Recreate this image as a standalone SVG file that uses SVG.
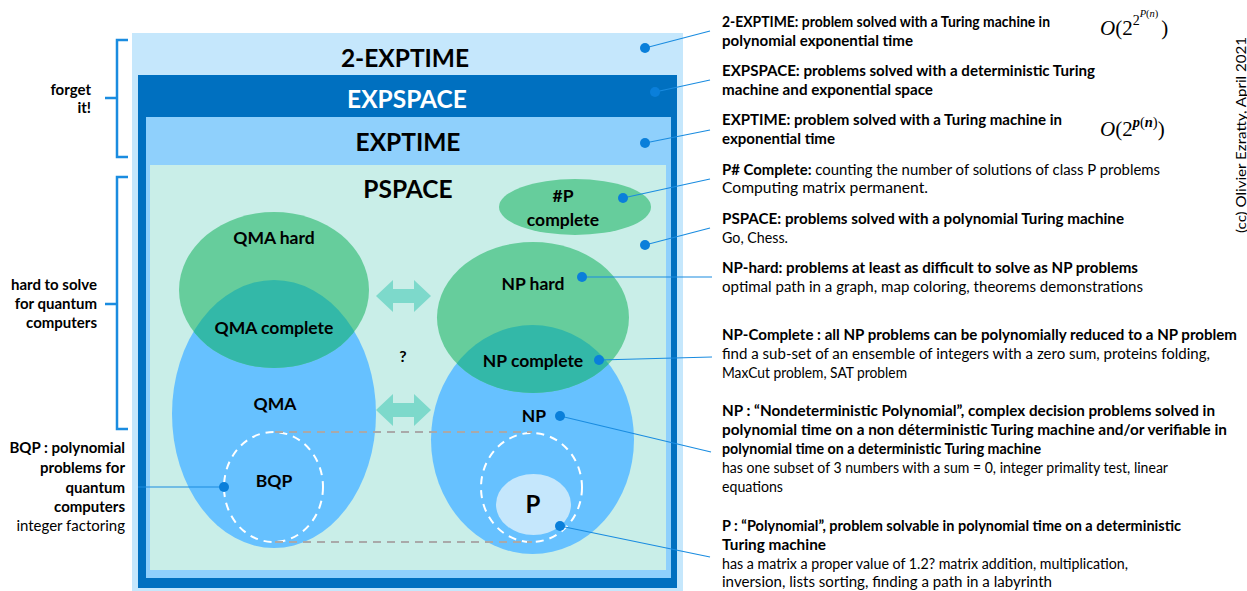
<svg xmlns="http://www.w3.org/2000/svg" width="1247" height="591" viewBox="0 0 1247 591">
<style>
text{font-family:Lato,"Liberation Sans",sans-serif;fill:#000}
.b{font-weight:bold}
.t{font-size:14.5px}
.big{font-size:24.5px;font-weight:bold;text-anchor:middle}
.lbl{font-size:17.5px;font-weight:bold;text-anchor:middle}
.side{font-size:15px;text-anchor:end}
.math{font-family:"Liberation Serif","DejaVu Serif",serif;font-style:italic}
.con{stroke:#1a8ce0;stroke-width:1.2;fill:none}
.dot{fill:#0a7fda}
.brace{stroke:#1a8ce0;stroke-width:2.5;fill:none}
.green{fill:#66cd9c}
.blue{fill:#66c1ff}
.teal{fill:#33b8a8}
.arr{fill:#7dd9cb}
.dash{stroke:#ffffff;stroke-width:2;stroke-dasharray:8,6;fill:none}
.gdash{stroke:#a9a9a9;stroke-width:2;stroke-dasharray:8,6;fill:none}
</style>
<defs>
<clipPath id="cQMA"><ellipse cx="274" cy="414" rx="102" ry="134"/></clipPath>
<clipPath id="cNP"><ellipse cx="532.5" cy="439.5" rx="101.5" ry="114.5"/></clipPath>
</defs>
<rect width="1247" height="591" fill="#ffffff"/>

<g id="twoexptime">
<rect x="132" y="33" width="551" height="560" fill="#c5e7fc"/>
<text class="big" x="405" y="67">2-EXPTIME</text>
</g>
<g id="expspace">
<rect x="138" y="75" width="539" height="513" fill="#0070c0"/>
<text class="big" x="407" y="108" style="fill:#ffffff">EXPSPACE</text>
</g>
<g id="exptime">
<rect x="146" y="117" width="525" height="461" fill="#8fd0fc"/>
<text class="big" x="408" y="151">EXPTIME</text>
</g>
<g id="pspace">
<rect x="150" y="165" width="516" height="405" fill="#c9eee8"/>
<text class="big" x="408" y="198">PSPACE</text>
</g>

<g id="sharpP">
<ellipse class="green" cx="575" cy="207" rx="76" ry="28"/>
<text class="lbl" x="563" y="202">#P</text>
<text class="lbl" x="563" y="226">complete</text>
</g>

<g id="qma">
<ellipse class="blue" cx="274" cy="414" rx="102" ry="134"/>
<text class="lbl" x="275" y="410">QMA</text>
</g>
<g id="qmahard">
<ellipse class="green" cx="274" cy="290" rx="95" ry="78"/>
<ellipse class="teal" cx="274" cy="290" rx="95" ry="78" clip-path="url(#cQMA)"/>
<text class="lbl" x="274" y="244">QMA hard</text>
<text class="lbl" x="274" y="334">QMA complete</text>
</g>
<g id="bqp">
<ellipse class="dash" cx="273.5" cy="487" rx="49.5" ry="55"/>
<text class="lbl" x="274" y="487">BQP</text>
</g>

<g id="np">
<ellipse class="blue" cx="532.5" cy="439.5" rx="101.5" ry="114.5"/>
<text class="lbl" x="534" y="422">NP</text>
</g>
<g id="nphard">
<ellipse class="green" cx="533" cy="317.5" rx="96" ry="75.5"/>
<ellipse class="teal" cx="533" cy="317.5" rx="96" ry="75.5" clip-path="url(#cNP)"/>
<text class="lbl" x="533" y="290">NP hard</text>
<text class="lbl" x="533" y="367">NP complete</text>
</g>
<g id="p">
<ellipse class="dash" cx="531.5" cy="487.5" rx="50.5" ry="54.5"/>
<ellipse cx="533.5" cy="504.5" rx="37.5" ry="30.5" fill="#c5e7fc"/>
<text x="533" y="513" style="font-size:24px;font-weight:bold;text-anchor:middle">P</text>
</g>

<g id="equivalence">
<polygon class="arr" points="376,296 393,280 393,289 414,289 414,280 431,296 414,312 414,303 393,303 393,312"/>
<polygon class="arr" points="376,410 393,394 393,403 414,403 414,394 431,410 414,426 414,417 393,417 393,426"/>
<text x="403" y="362" style="font-size:16px;font-weight:bold;text-anchor:middle">?</text>
</g>

<g id="connectors">
<line class="gdash" x1="275" y1="432" x2="532" y2="432"/>
<line class="gdash" x1="275" y1="542" x2="532" y2="542"/>
<line class="con" x1="645" y1="48" x2="710" y2="31"/>
<line class="con" x1="655" y1="92" x2="710" y2="80"/>
<line class="con" x1="645" y1="143" x2="710" y2="130"/>
<line class="con" x1="623" y1="198" x2="710" y2="179"/>
<line class="con" x1="645" y1="245" x2="710" y2="228"/>
<line class="con" x1="582" y1="277" x2="712" y2="277"/>
<line class="con" x1="599" y1="360" x2="712" y2="357"/>
<line class="con" x1="560" y1="416" x2="711" y2="452"/>
<line class="con" x1="560" y1="526" x2="710" y2="557"/>
<line class="con" x1="138" y1="487" x2="224" y2="487"/>
<circle class="dot" cx="645" cy="48" r="5"/>
<circle class="dot" cx="655" cy="92" r="5"/>
<circle class="dot" cx="645" cy="143" r="5"/>
<circle class="dot" cx="623" cy="198" r="5"/>
<circle class="dot" cx="645" cy="245" r="5"/>
<circle class="dot" cx="582" cy="277" r="5"/>
<circle class="dot" cx="599" cy="360" r="5"/>
<circle class="dot" cx="560" cy="416" r="5"/>
<circle class="dot" cx="560" cy="526" r="5"/>
<circle class="dot" cx="224" cy="487" r="5"/>
</g>

<g id="braces">
<path class="brace" d="M128,40 H117 V157 H128 M117,98 H105"/>
<path class="brace" d="M128,177 H117 V429 H128 M117,304 H105"/>
</g>

<g id="leftnotes">
<text class="side b" x="91" y="95">forget</text>
<text class="side b" x="91" y="113">it!</text>
<text class="side b" x="97" y="290">hard to solve</text>
<text class="side b" x="97" y="309">for quantum</text>
<text class="side b" x="97" y="328">computers</text>
<text class="side b" x="125" y="453">BQP : polynomial</text>
<text class="side b" x="125" y="473">problems for</text>
<text class="side b" x="125" y="493">quantum</text>
<text class="side b" x="125" y="512">computers</text>
<text class="side" x="125" y="531">integer factoring</text>
</g>

<g id="notes">
<text class="t b" x="722" y="27" textLength="328" lengthAdjust="spacingAndGlyphs">2-EXPTIME: problem solved with a Turing machine in</text>
<text class="t b" x="722" y="46" textLength="191" lengthAdjust="spacingAndGlyphs">polynomial exponential time</text>
<text class="t b" x="722" y="76" textLength="373" lengthAdjust="spacingAndGlyphs">EXPSPACE: problems solved with  a deterministic Turing</text>
<text class="t b" x="722" y="95" textLength="211" lengthAdjust="spacingAndGlyphs">machine and exponential space</text>
<text class="t b" x="722" y="125" textLength="340" lengthAdjust="spacingAndGlyphs">EXPTIME: problem solved with a Turing machine in</text>
<text class="t b" x="722" y="144" textLength="113" lengthAdjust="spacingAndGlyphs">exponential time</text>
<text class="t" x="722" y="175" textLength="438" lengthAdjust="spacingAndGlyphs"><tspan class="b">P# Complete:</tspan> counting the number of solutions of class P problems</text>
<text class="t" x="722" y="193" textLength="206" lengthAdjust="spacingAndGlyphs">Computing matrix permanent.</text>
<text class="t b" x="722" y="224" textLength="402" lengthAdjust="spacingAndGlyphs">PSPACE: problems solved with a polynomial Turing machine</text>
<text class="t" x="722" y="243" textLength="66" lengthAdjust="spacingAndGlyphs">Go, Chess.</text>
<text class="t b" x="722" y="273" textLength="416" lengthAdjust="spacingAndGlyphs">NP-hard: problems at least as difficult to solve as NP problems</text>
<text class="t" x="722" y="292" textLength="421" lengthAdjust="spacingAndGlyphs">optimal path in a graph, map coloring, theorems demonstrations</text>
<text class="t b" x="722" y="340" textLength="515" lengthAdjust="spacingAndGlyphs">NP-Complete : all NP problems can be polynomially reduced to a NP problem</text>
<text class="t" x="722" y="359" textLength="488" lengthAdjust="spacingAndGlyphs">find a sub-set of an ensemble of integers with a zero sum, proteins folding,</text>
<text class="t" x="722" y="378" textLength="185" lengthAdjust="spacingAndGlyphs">MaxCut problem, SAT problem</text>
<text class="t b" x="722" y="416" textLength="493" lengthAdjust="spacingAndGlyphs">NP : “Nondeterministic Polynomial”, complex decision problems solved in</text>
<text class="t b" x="722" y="435" textLength="505" lengthAdjust="spacingAndGlyphs">polynomial time on a non déterministic Turing machine and/or verifiable in</text>
<text class="t b" x="722" y="454" textLength="319" lengthAdjust="spacingAndGlyphs">polynomial time on a deterministic Turing machine</text>
<text class="t" x="722" y="473" textLength="446" lengthAdjust="spacingAndGlyphs">has one subset of 3 numbers with a sum = 0, integer primality test, linear</text>
<text class="t" x="722" y="492" textLength="61" lengthAdjust="spacingAndGlyphs">equations</text>
<text class="t b" x="722" y="531" textLength="459" lengthAdjust="spacingAndGlyphs">P : “Polynomial”, problem solvable in polynomial time on a deterministic</text>
<text class="t b" x="722" y="550" textLength="104" lengthAdjust="spacingAndGlyphs">Turing machine</text>
<text class="t" x="722" y="569" textLength="406" lengthAdjust="spacingAndGlyphs">has a matrix a proper value of 1.2? matrix addition, multiplication,</text>
<text class="t" x="722" y="587" textLength="330" lengthAdjust="spacingAndGlyphs">inversion, lists sorting, finding a path in a labyrinth</text>
</g>

<g id="formulas">
<text class="math" x="1100" y="35" style="font-size:21px">O<tspan style="font-style:normal">(2</tspan><tspan dy="-10" style="font-style:normal;font-size:14px">2</tspan><tspan dy="-8" style="font-size:10.5px">P</tspan><tspan style="font-style:normal;font-size:10.5px">(</tspan><tspan style="font-size:10.5px">n</tspan><tspan style="font-style:normal;font-size:10.5px">)</tspan><tspan dy="18" dx="3" style="font-style:normal">)</tspan></text>
<text class="math" x="1100" y="136" style="font-size:21px">O<tspan style="font-style:normal">(2</tspan><tspan dy="-9" style="font-size:14.5px;font-weight:bold">p</tspan><tspan style="font-style:normal;font-size:14.5px">(</tspan><tspan style="font-size:14.5px;font-weight:bold">n</tspan><tspan style="font-style:normal;font-size:14.5px">)</tspan><tspan dy="9" style="font-style:normal">)</tspan></text>
</g>

<g id="credit">
<text x="1246" y="135" transform="rotate(-90 1246 135)" style="font-size:13.5px;text-anchor:middle" textLength="196" lengthAdjust="spacingAndGlyphs">(cc) Olivier Ezratty, April 2021</text>
</g>
</svg>
